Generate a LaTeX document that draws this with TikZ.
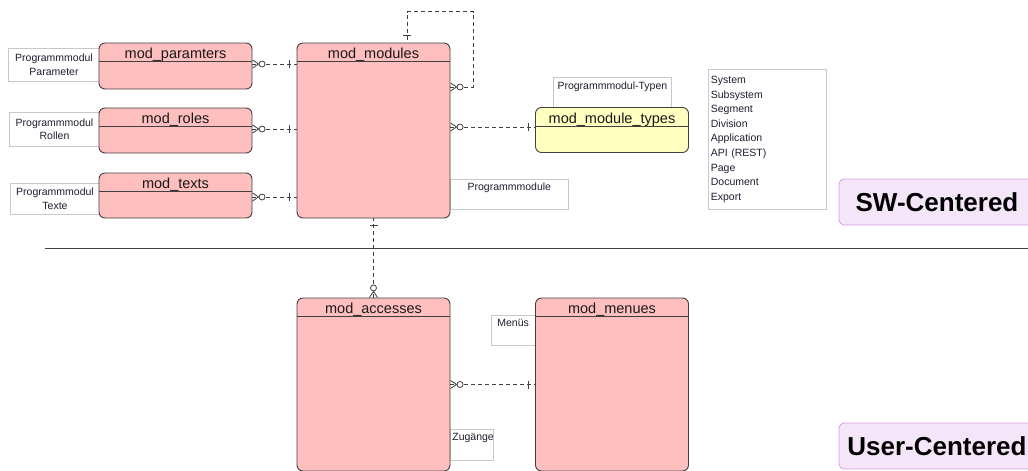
\documentclass[tikz,border=0pt]{standalone}
\usepackage{fontspec}
\setmainfont{Liberation Sans}
\usetikzlibrary{decorations.markings}
\definecolor{entpink}{RGB}{255,191,191}
\definecolor{entyellow}{RGB}{255,255,192}
\definecolor{entline}{RGB}{64,64,64}
\definecolor{notegray}{RGB}{200,200,200}
\definecolor{notetext}{RGB}{30,30,50}
\definecolor{areafill}{RGB}{244,230,248}
\definecolor{arealine}{RGB}{214,160,230}
\begin{document}
\begin{tikzpicture}[x=1pt,y=-1pt,
        entity/.style={draw=entline,fill=entpink,rounded corners=6pt,line width=0.9pt,inner sep=0pt,minimum width=153},
        title/.style={font=\fontsize{14.5}{16}\selectfont,text=black!90,anchor=base,inner sep=0pt},
        notebox/.style={draw=notegray,fill=white,line width=0.7pt,font=\fontsize{10.5}{13.5}\selectfont,text=notetext,inner sep=0pt,align=center},
        rel/.style={draw=entline,line width=0.8pt,dash pattern=on 4pt off 3pt},
        zeromany/.style={postaction={decorate,decoration={markings,mark=at position 0.1pt with {
            \draw[solid,line width=0.8pt] (0pt,4pt) -- (6pt,0pt) -- (0pt,-4pt);
            \draw[solid,line width=0.8pt,fill=white] (9.5pt,0pt) circle (3pt);}}}},
        oneend/.style={postaction={decorate,decoration={markings,mark=at position -7pt with {
            \draw[solid,line width=0.8pt] (0pt,4pt) -- (0pt,-4pt);}}}},
        area/.style={draw=arealine,fill=areafill,rounded corners=5pt,line width=0.8pt,minimum width=196,minimum height=46,
            font=\fontsize{26}{30}\selectfont\bfseries,inner sep=0pt}]
    \useasboundingbox (0,0) rectangle (1028,471);

    % notes (behind the tables)
    \node[notebox,minimum width=92,minimum height=33] (nparam) at (54,64.5) {Programmmodul\\Parameter};
    \node[notebox,minimum width=91,minimum height=34] (nroles) at (54.5,129) {Programmmodul\\Rollen};
    \node[notebox,minimum width=90,minimum height=31] (ntexts) at (55,198.5) {Programmmodul\\Texte};
    \node[notebox,minimum width=118,minimum height=33,anchor=north west,
        label={[notebox,draw=none,fill=none,anchor=north,yshift=-5pt]north:Programmmodul-Typen}] (ntypes) at (553,77) {};
    \node[notebox,minimum width=118,minimum height=30,anchor=north west,
        label={[notebox,draw=none,fill=none,anchor=north,yshift=-4pt]north:Programmmodule}] (nmodules) at (450,179) {};
    \node[notebox,minimum width=118,minimum height=140,anchor=north west,text width=113,align=left,
        font=\fontsize{10.5}{14.6}\selectfont] (ntypelist) at (708,69)
        {System\\Subsystem\\Segment\\Division\\Application\\API (REST)\\Page\\Document\\Export};
    \node[notebox,minimum width=50,minimum height=30,anchor=north west,
        label={[notebox,draw=none,fill=none,anchor=north west,xshift=6pt,yshift=-4pt]north west:Menüs}] (nmenues) at (491,315) {};
    \node[notebox,minimum width=43,minimum height=31,anchor=north west,
        label={[notebox,draw=none,fill=none,anchor=north west,xshift=2pt,yshift=-4pt]north west:Zugänge}] (naccess) at (450,429) {};

    % tables
    \node[entity,minimum height=46] (mparam) at (175.5,66) {};
    \node[entity,minimum height=45] (mroles) at (175.5,130.5) {};
    \node[entity,minimum height=45] (mtexts) at (175.5,195.5) {};
    \node[entity,minimum height=175] (mmodules) at (373.5,130.5) {};
    \node[entity,fill=entyellow,minimum height=45] (mtypes) at (612,130) {};
    \node[entity,minimum height=173] (maccess) at (373.5,384.5) {};
    \node[entity,minimum height=173] (mmenues) at (612,384.5) {};

    \foreach \e/\t in {mparam/mod\_paramters,mroles/mod\_roles,mtexts/mod\_texts,
            mmodules/mod\_modules,mtypes/mod\_module\_types,maccess/mod\_accesses,mmenues/mod\_menues}{
        \draw[entline,line width=0.9pt] ([yshift=-19pt]\e.north west) -- ([yshift=-19pt]\e.north east);
        \node[title] at ([yshift=-16pt]\e.north) {\t};
    }

    % relations
    \draw[rel,zeromany,oneend] (mparam.east |- 0,64) -- (mmodules.west |- 0,64);
    \draw[rel,zeromany,oneend] (mroles.east |- 0,129) -- (mmodules.west |- 0,129);
    \draw[rel,zeromany,oneend] (mtexts.east |- 0,197) -- (mmodules.west |- 0,197);
    \draw[rel,zeromany,oneend] (mmodules.east |- 0,127) -- (mtypes.west |- 0,127);
    \coordinate (looptop) at ([xshift=33.5pt]mmodules.north);
    \draw[rel,zeromany,oneend] (mmodules.east |- 0,87) -- ++(23,0) |- ([yshift=31pt]looptop) -- (looptop);
    \draw[rel,zeromany,oneend] (maccess.north) -- (mmodules.south);
    \draw[rel,zeromany,oneend] (maccess.east) -- (mmenues.west);

    % separation
    \draw[entline,line width=0.9pt] (45,248) -- (1028,248);
    \node[area] (swcentered) at (937,202) {SW-Centered};
    \node[area] (usercentered) at (937,446) {User-Centered};
\end{tikzpicture}
\end{document}
